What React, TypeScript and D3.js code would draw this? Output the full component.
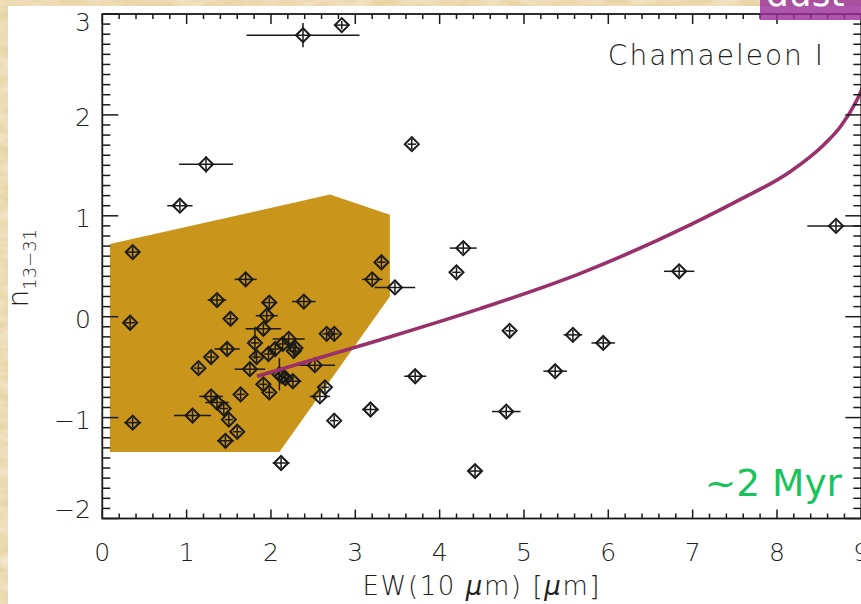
import React from "react";
import * as d3 from "d3";

// ---- data ----
const ptX = [2.38, 2.84, 1.23, 0.92, 3.67, 4.28, 4.2, 3.47, 4.83, 5.58, 5.94, 5.37, 3.71, 4.79, 6.84, 8.7, 4.42, 3.18, 2.75, 2.12, 0.36, 0.33, 0.36, 1.07,
  1.7, 1.36, 1.98, 2.39, 1.52, 1.95, 1.91, 1.81, 1.48, 1.97, 1.83, 2.05, 2.14, 2.21, 2.29, 2.27, 2.66, 2.75, 1.29, 1.14, 1.75, 2.52, 2.1, 2.13, 2.17, 2.26,
  1.91, 1.98, 2.64, 2.58, 1.64, 1.29, 1.36, 1.44, 1.5, 1.6, 1.46, 3.2, 3.31];
const ptY = [2.79, 2.89, 1.51, 1.1, 1.71, 0.68, 0.44, 0.29, -0.14, -0.18, -0.26, -0.54, -0.59, -0.94, 0.45, 0.9, -1.53, -0.92, -1.03, -1.45, 0.64, -0.06, -1.05, -0.98,
  0.37, 0.165, 0.14, 0.15, -0.02, 0.01, -0.12, -0.26, -0.32, -0.37, -0.4, -0.32, -0.27, -0.22, -0.31, -0.34, -0.17, -0.17, -0.4, -0.51, -0.52, -0.48, -0.57, -0.59, -0.61, -0.64,
  -0.67, -0.75, -0.7, -0.79, -0.77, -0.79, -0.85, -0.91, -1.02, -1.14, -1.23, 0.37, 0.54];
const ptXErr = [0.67, 0.09, 0.32, 0.15, 0, 0.16, 0, 0.24, 0, 0.11, 0.14, 0.14, 0.13, 0.17, 0.18, 0.34, 0.07, 0.1, 0, 0.1, 0.08, 0.06, 0.1, 0.22,
  0.13, 0.11, 0.09, 0.14, 0, 0.13, 0.21, 0, 0.15, 0, 0, 0, 0, 0.19, 0, 0, 0, 0, 0, 0, 0.18, 0.24, 0, 0, 0, 0.1,
  0, 0, 0, 0.12, 0, 0.14, 0.14, 0, 0, 0, 0.1, 0.12, 0];
const ptYErr = [0.12, 0.04, 0.08, 0.05, 0.05, 0.05, 0.05, 0.05, 0.05, 0.05, 0.05, 0.05, 0.05, 0.05, 0.05, 0.05, 0.05, 0.05, 0.05, 0.05, 0.05, 0.05, 0.05, 0.05,
  0.06, 0.05, 0.05, 0.05, 0.05, 0.05, 0.05, 0.16, 0.05, 0.05, 0.05, 0.05, 0.05, 0.05, 0.05, 0.05, 0.05, 0.05, 0.05, 0.05, 0.05, 0.05, 0.16, 0.05, 0.05, 0.05,
  0.05, 0.05, 0.05, 0.05, 0.05, 0.05, 0.05, 0.05, 0.05, 0.05, 0.05, 0.05, 0.05];

const regionX = [0.09, 2.7, 3.41, 3.41, 2.1, 0.09];
const regionY = [0.72, 1.21, 1.01, 0.2, -1.34, -1.34];

const curveX = [1.835, 3.29, 4.48, 5.67, 6.97, 7.56, 8.16, 8.55, 8.75, 8.95, 9.1];
const curveY = [-0.59, -0.23, 0.08, 0.43, 0.91, 1.16, 1.44, 1.7, 1.88, 2.15, 2.44];

const xTicks = [0, 1, 2, 3, 4, 5, 6, 7, 8, 9];
const yTicks = [-2, -1, 0, 1, 2, 3];

const regionLabel = "Chamaeleon I";
const ageLabel = "~2 Myr";
const tagLabel = "dust";

// ---- layout ----
const W = 861, H = 604;
const L = 102.3, R = 861.3, T = 14, B = 518.5;
const FONT = "'DejaVu Sans', 'Liberation Sans', sans-serif";

export default function App() {
  const x = d3.scaleLinear().domain([0, 9]).range([L, R]);
  const y = d3.scaleLinear().domain([-2, 3]).range([B, T]);

  const region = regionX.map((v, i) => [x(v), y(regionY[i])] as [number, number]);
  const regionPath = "M" + region.map((p) => p.join(",")).join("L") + "Z";

  const line = d3.line<number>().x((d, i) => x(curveX[i])).y((d, i) => y(curveY[i])).curve(d3.curveMonotoneX);
  const curvePath = line(curveX) || "";

  const xMinor = d3.range(0, 9.001, 0.2).filter((v) => Math.abs(v - Math.round(v)) > 1e-6);
  const yMinor = d3.range(-2, 3.001, 0.1).filter((v) => Math.abs(v - Math.round(v)) > 1e-6);

  const ink = "#1a1a1a";
  const d = 7;

  return (
    <svg width={W} height={H} style={{ position: "absolute", left: 0, top: 0, display: "block" }} xmlns="http://www.w3.org/2000/svg">
      <defs>
        <filter id="paper" x="0" y="0" width="100%" height="100%">
          <feTurbulence type="fractalNoise" baseFrequency="0.035 0.09" numOctaves="4" seed="3" result="n" />
          <feColorMatrix in="n" type="matrix" values="0 0 0 0 0.95  0 0 0 0 0.88  0 0 0 0 0.72  0 0 0 -1.4 1.05" />
        </filter>
        <clipPath id="plot">
          <rect x={L} y={T} width={R - L} height={B - T} />
        </clipPath>
      </defs>
      <rect x={0} y={0} width={W} height={H} fill="#e9d4a6" />
      <rect x={0} y={0} width={W} height={H} filter="url(#paper)" opacity={0.8} />
      <rect x={8} y={6} width={W} height={H} fill="#ffffff" />

      <path d={regionPath} fill="#c9951a" />

      <g stroke={ink} fill="none" strokeWidth={1.6}>
        {ptX.map((px, i) => {
          const cx = x(px), cy = y(ptY[i]);
          const xe = Math.max(ptXErr[i], 0.05);
          const ye = ptYErr[i];
          return (
            <g key={i}>
              <line x1={x(px - xe)} x2={x(px + xe)} y1={cy} y2={cy} strokeWidth={1.5} />
              <line x1={cx} x2={cx} y1={y(ptY[i] - ye)} y2={y(ptY[i] + ye)} strokeWidth={1.5} />
              <path d={`M${cx - d},${cy}L${cx},${cy - d}L${cx + d},${cy}L${cx},${cy + d}Z`} strokeWidth={2} />
            </g>
          );
        })}
      </g>

      <path d={curvePath} fill="none" stroke="#98306a" strokeWidth={3.6} clipPath="url(#plot)" />

      {/* frame */}
      <rect x={L} y={T} width={R - L} height={B - T} fill="none" stroke={ink} strokeWidth={1.8} />
      <g stroke={ink} strokeWidth={1.5}>
        {xTicks.map((v) => (
          <g key={"xt" + v}>
            <line x1={x(v)} x2={x(v)} y1={B} y2={B - 9} />
            <line x1={x(v)} x2={x(v)} y1={T} y2={T + 10} />
          </g>
        ))}
        {xMinor.map((v) => (
          <g key={"xm" + v}>
            <line x1={x(v)} x2={x(v)} y1={B} y2={B - 5} />
            <line x1={x(v)} x2={x(v)} y1={T} y2={T + 5} />
          </g>
        ))}
        {yTicks.map((v) => (
          <g key={"yt" + v}>
            <line x1={L} x2={L + 16} y1={y(v)} y2={y(v)} />
            <line x1={R} x2={R - 16} y1={y(v)} y2={y(v)} />
          </g>
        ))}
        {yMinor.map((v) => (
          <g key={"ym" + v}>
            <line x1={L} x2={L + 8} y1={y(v)} y2={y(v)} />
            <line x1={R} x2={R - 8} y1={y(v)} y2={y(v)} />
          </g>
        ))}
      </g>

      <g fontFamily={FONT} fontWeight={200} fill="#1e1e1e" fontSize={25}>
        {xTicks.map((v) => (
          <text key={"xl" + v} x={x(v)} y={B + 42} textAnchor="middle">{String(v)}</text>
        ))}
        {yTicks.map((v) => (
          <text key={"yl" + v} x={91} y={Math.min(Math.max(y(v) + 4, T + 10), B - 8)} textAnchor="end" dominantBaseline="middle">
            {v < 0 ? "\u2212" + Math.abs(v) : String(v)}
          </text>
        ))}
        <text x={x(4.5)} y={595} textAnchor="middle" fontSize={26} letterSpacing={1.6}>
          {"EW(10 "}<tspan fontStyle="italic">μ</tspan>{"m) ["}<tspan fontStyle="italic">μ</tspan>{"m]"}
        </text>
        <text transform={`translate(28,${(T + B) / 2 + 2}) rotate(-90)`} textAnchor="middle" fontSize={28}>
          n<tspan fontSize={18} dy={8}>13−31</tspan>
        </text>
        <text x={825} y={64.5} textAnchor="end" fontSize={28} letterSpacing={2}>{regionLabel}</text>
      </g>

      <text x={842} y={496} textAnchor="end" fontFamily={FONT} fontSize={37.5} fill="#17c35c">{ageLabel}</text>

      <rect x={760} y={0} width={W - 760} height={20} fill="#9a2f98" opacity={0.82} />
      <text x={766} y={6} fontFamily={FONT} fontSize={36} fill="#ffffff">{tagLabel}</text>
    </svg>
  );
}
